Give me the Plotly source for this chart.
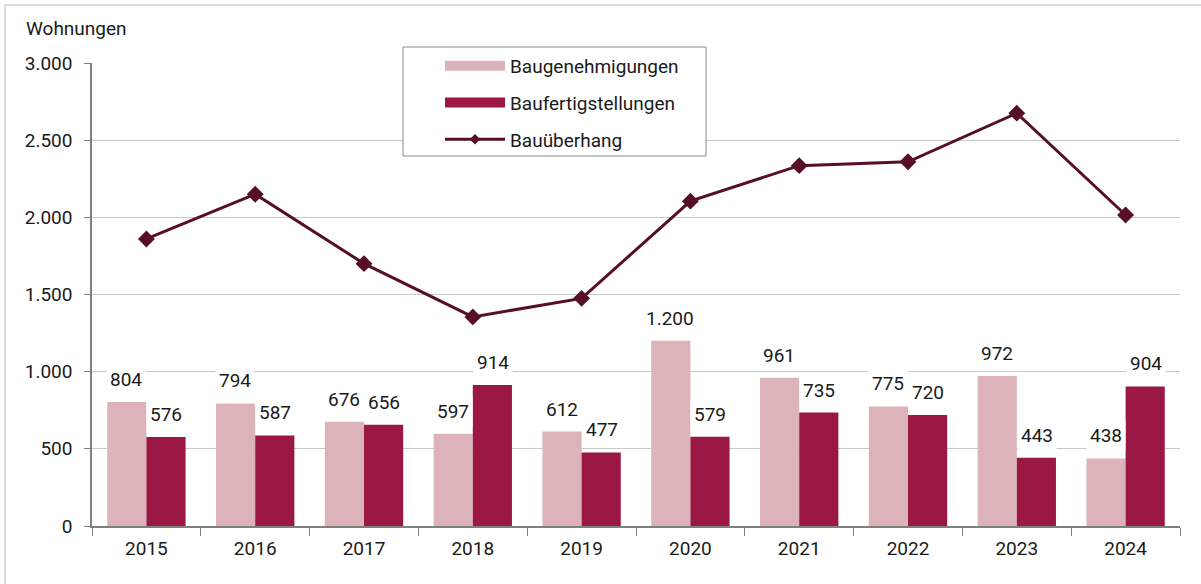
import plotly.graph_objects as go

years = ["2015", "2016", "2017", "2018", "2019", "2020", "2021", "2022", "2023", "2024"]
genehmigungen = [804, 794, 676, 597, 612, 1200, 961, 775, 972, 438]
fertigstellungen = [576, 587, 656, 914, 477, 579, 735, 720, 443, 904]
ueberhang = [1860, 2150, 1700, 1355, 1475, 2105, 2335, 2360, 2675, 2015]

C_LIGHT = "#DCB3B9"
C_DARK = "#9C1844"
C_LINE = "#560F26"
FONT = "Roboto, Noto Sans, sans-serif"
FS = 19
TXT = "#1a1a1a"

W, H = 1201, 584
ML, MR, MT, MB = 92, 21, 63, 58
PW, PH = W - ML - MR, H - MT - MB

def px_x(p):
    return (p - ML) / PW

def px_y(p):
    return (MT + PH - p) / PH

def de(v):
    return f"{v:,}".replace(",", ".")

fig = go.Figure()
fig.add_trace(go.Bar(x=years, y=genehmigungen, name="Baugenehmigungen", showlegend=False,
                     marker=dict(color=C_LIGHT, line=dict(width=0))))
fig.add_trace(go.Bar(x=years, y=fertigstellungen, name="Baufertigstellungen", showlegend=False,
                     marker=dict(color=C_DARK, line=dict(width=0))))
fig.add_trace(go.Scatter(x=years, y=ueberhang, name="Bauüberhang", mode="lines+markers",
                         showlegend=False,
                         line=dict(color=C_LINE, width=3),
                         marker=dict(symbol="diamond", size=13, color=C_LINE)))
# legend entries (wide swatches as in the reference)
fig.add_trace(go.Scatter(x=[None], y=[None], name="Baugenehmigungen", mode="lines",
                         legendgroup="a", line=dict(color=C_LIGHT, width=14)))
fig.add_trace(go.Scatter(x=[None], y=[None], name="Baufertigstellungen", mode="lines",
                         legendgroup="b", line=dict(color=C_DARK, width=14)))
fig.add_trace(go.Scatter(x=[None], y=[None], name="Bauüberhang", mode="lines+markers",
                         legendgroup="c", line=dict(color=C_LINE, width=3),
                         marker=dict(symbol="diamond", size=8, color=C_LINE)))

ann = []
for i, (a, b) in enumerate(zip(genehmigungen, fertigstellungen)):
    ann.append(dict(x=i, y=a, text=de(a), xshift=-20, yshift=7, yanchor="bottom",
                    showarrow=False, bgcolor="white", borderpad=3,
                    font=dict(size=FS, color=TXT)))
    ann.append(dict(x=i, y=b, text=de(b), xshift=20, yshift=7, yanchor="bottom",
                    showarrow=False, bgcolor="white", borderpad=3,
                    font=dict(size=FS, color=TXT)))
ann.append(dict(xref="paper", yref="paper", x=px_x(24), y=px_y(42),
                text="Wohnungen", xanchor="left", yanchor="bottom", showarrow=False,
                font=dict(size=FS, color=TXT)))

fig.update_layout(
    width=W, height=H,
    margin=dict(l=ML, r=MR, t=MT, b=MB, autoexpand=False),
    paper_bgcolor="white", plot_bgcolor="white",
    font=dict(family=FONT, size=FS, color=TXT),
    barmode="group", bargap=0.28, bargroupgap=0,
    showlegend=True,
    legend=dict(x=px_x(440), y=px_y(47), xanchor="left", yanchor="top",
                borderwidth=0, bgcolor="rgba(0,0,0,0)",
                font=dict(size=FS, color=TXT), itemwidth=60, tracegroupgap=9),
    annotations=ann,
    shapes=[
        dict(type="rect", xref="paper", yref="paper", x0=px_x(5), x1=1.1,
             y0=-0.3, y1=px_y(5), line=dict(color="#d0d0d0", width=1.5), layer="below"),
        dict(type="rect", xref="paper", yref="paper", x0=px_x(403), x1=px_x(706),
             y0=px_y(156), y1=px_y(47), line=dict(color="#8a8a8a", width=1),
             fillcolor="white", layer="above"),
    ],
)
fig.update_xaxes(type="category", range=[-0.5, len(years) - 0.5],
                 showline=True, linecolor="#7f7f7f", linewidth=1.5,
                 ticks="outside", tickson="boundaries", ticklen=8, tickcolor="#7f7f7f",
                 showgrid=False, tickangle=0, tickfont=dict(size=FS, color=TXT),
                 ticklabelstandoff=4)
fig.update_yaxes(range=[0, 3000], dtick=500, tickformat=",d",
                 showline=True, linecolor="#7f7f7f", linewidth=1.5, ticks="outside",
                 ticklen=6, tickcolor="#7f7f7f", gridcolor="#c8c8c8", gridwidth=1.2,
                 zeroline=False, tickfont=dict(size=FS, color=TXT), ticklabelstandoff=8)
fig.update_layout(separators=",.")
fig.write_html("out.html", config={"displayModeBar": False},
               post_script="document.body.style.margin='0';")
